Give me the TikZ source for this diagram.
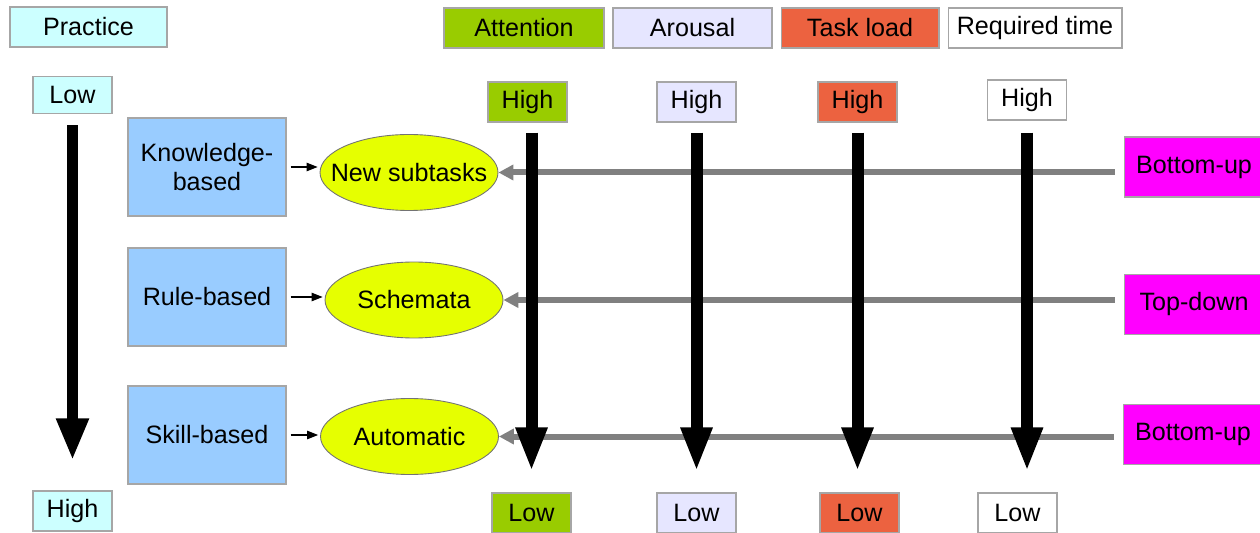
\documentclass[tikz,border=0pt]{standalone}
\usepackage{fontspec}
\setmainfont{Liberation Sans}
\usetikzlibrary{arrows.meta,shapes.geometric}

\definecolor{practicecol}{HTML}{CCFFFF}
\definecolor{levelcol}{HTML}{99CCFF}
\definecolor{modecol}{HTML}{E6FF00}
\definecolor{attcol}{HTML}{99CC00}
\definecolor{arocol}{HTML}{E6E6FF}
\definecolor{loadcol}{HTML}{EC6240}
\definecolor{flowcol}{HTML}{FF00FF}
\definecolor{linecol}{HTML}{808080}

\tikzset{
  box/.style={draw=gray!70, line width=0.6pt, inner sep=0pt,
    font=\fontsize{14.3}{17}\selectfont},
  tag/.style={box, minimum width=1.58cm, minimum height=0.8cm},
  header/.style={box, minimum height=0.8cm},
  level/.style={box, fill=levelcol, minimum width=3.16cm, minimum height=1.96cm, align=center},
  mode/.style={ellipse, draw=black!55, line width=0.5pt, fill=modecol, inner ysep=0pt,
    inner xsep=-0.33cm, minimum width=3.56cm, minimum height=1.52cm,
    font=\fontsize{14.3}{17}\selectfont},
  flow/.style={box, fill=flowcol, minimum width=2.8cm, minimum height=1.2cm},
  bigarrow/.style={line width=0.24cm, -{Triangle[width=0.58cm,length=0.88cm]},
    shorten <=0.2cm, shorten >=0.42cm},
  grayarrow/.style={draw=linecol, line width=0.12cm, -{Triangle[width=0.3cm,length=0.3cm]},
    shorten <=0.18cm},
  smallarrow/.style={line width=0.6pt, -{Triangle[width=0.17cm,length=0.22cm]},
    shorten <=0.08cm, shorten >=0.04cm}
}

\begin{document}
\begin{tikzpicture}[x=0.02cm, y=-0.02cm]
\useasboundingbox (0,0) rectangle (1260,533);

% practice scale
\node[header, fill=practicecol, minimum width=3.14cm] (practice) at (88.5,27) {Practice};
\node[tag, fill=practicecol, minimum height=0.74cm] (lowP) at (72.5,95) {Low};
\node[tag, fill=practicecol] (highP) at (72.5,511) {High};

% levels of behaviour
\node[level] (knowledge) at (207,167) {Knowledge-\\based};
\node[level] (rule) at (207,297) {Rule-based};
\node[level] (skill) at (207,435) {Skill-based};

\node[mode] (subtasks) at (409,172.5) {New subtasks};
\node[mode] (schemata) at (414,300) {Schemata};
\node[mode] (automatic) at (409.5,436.5) {Automatic};

% headers
\node[header, fill=attcol, minimum width=3.2cm] (hdrA) at (524,28) {Attention};
\node[header, fill=arocol, minimum width=3.18cm] (hdrR) at (692.5,28) {Arousal};
\node[header, fill=loadcol, minimum width=3.16cm] (hdrT) at (860,28) {Task load};
\node[header, fill=white, minimum width=3.48cm] (hdrQ) at (1035,28) {Required time};

\node[tag, fill=attcol] (hiA) at (527.5,102) {High};
\node[tag, fill=arocol] (hiR) at (696.5,102) {High};
\node[tag, fill=loadcol] (hiT) at (857.5,102) {High};
\node[tag, fill=white] (hiQ) at (1027,100) {High};

\node[tag, fill=attcol] (loA) at (531.5,513) {Low};
\node[tag, fill=arocol] (loR) at (696.5,513) {Low};
\node[tag, fill=loadcol] (loT) at (859.5,513) {Low};
\node[tag, fill=white] (loQ) at (1017.5,513) {Low};

% processing direction
\node[flow] (bu1) at (1194,167) {Bottom-up};
\node[flow] (td) at (1194,304.5) {Top-down};
\node[flow] (bu2) at (1193,434.5) {Bottom-up};

\draw[grayarrow] (subtasks.east -| bu1.west) -- (subtasks.east);
\draw[grayarrow] (schemata.east -| td.west) -- (schemata.east);
\draw[grayarrow] (automatic.east -| bu2.west) -- (automatic.east);

\draw[smallarrow] (knowledge.east) -- (knowledge.east -| subtasks.west);
\draw[smallarrow] (rule.east) -- (rule.east -| schemata.west);
\draw[smallarrow] (skill.east) -- (skill.east -| automatic.west);

% big arrows
\draw[bigarrow, line width=0.22cm, -{Triangle[width=0.6cm,length=0.84cm]},
  shorten <=0.22cm, shorten >=0.6cm] (lowP.south) -- (highP.north);
\draw[bigarrow] (loA.north |- hiA.south) -- (loA.north);
\draw[bigarrow] (hiR.south) -- (loR.north);
\draw[bigarrow] (hiT.south) -- (hiT.south |- loT.north);
\draw[bigarrow, shorten <=0.24cm] (hiQ.south) -- (hiQ.south |- loQ.north);
\end{tikzpicture}
\end{document}
